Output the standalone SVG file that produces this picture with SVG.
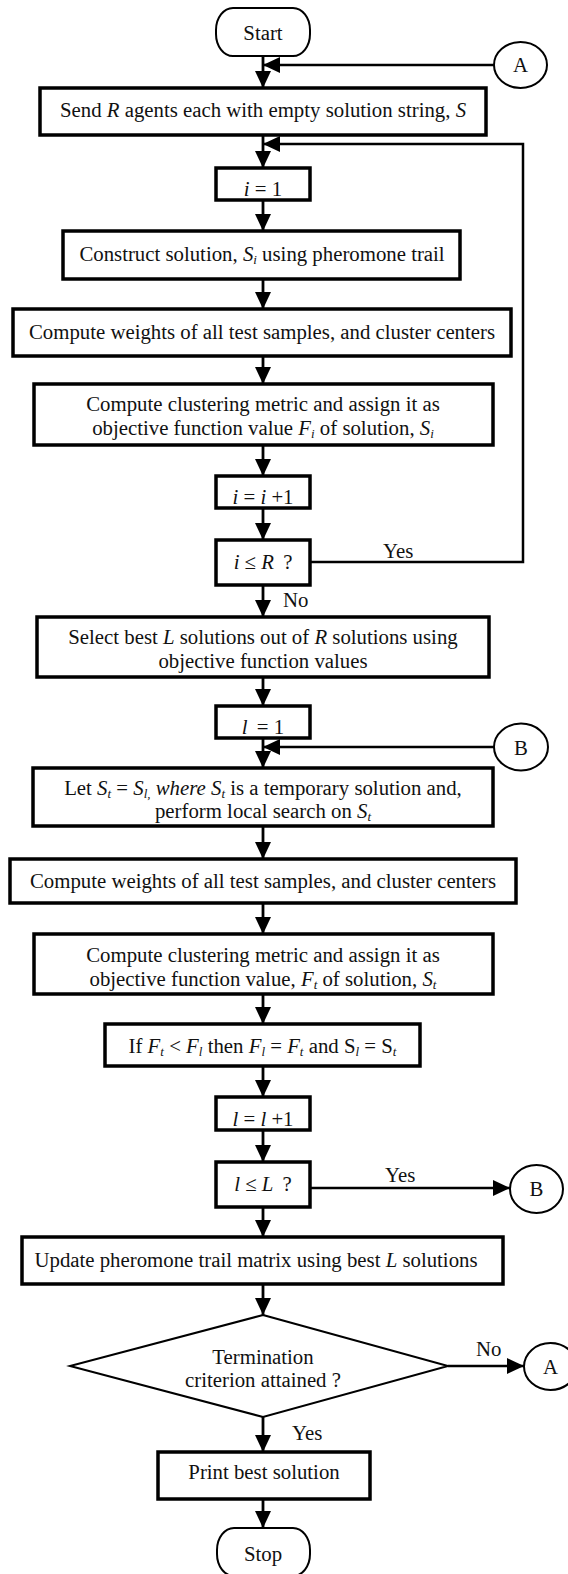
<svg xmlns="http://www.w3.org/2000/svg" width="568" height="1574" viewBox="0 0 568 1574">
<style>
text{font-family:"Liberation Serif","Times New Roman",serif;font-size:20.8px;fill:#111;text-anchor:middle}
.l{text-anchor:start}
.it{font-style:italic}
.sb{font-size:13px;font-style:italic}
.box{fill:#fff;stroke:#000;stroke-width:3.5}
.thin{fill:#fff;stroke:#000;stroke-width:2}
.c{fill:none;stroke:#000;stroke-width:2.8}
.r{fill:none;stroke:#000;stroke-width:2.5}
</style>
<defs>
<marker id="ah" markerUnits="userSpaceOnUse" markerWidth="17" markerHeight="16" refX="17" refY="8" orient="auto">
<path d="M0,0 L17,8 L0,16 Z" fill="#000"/>
</marker>
</defs>
<g id="connectors">
<path class="c" d="M263,56 V88" marker-end="url(#ah)"/>
<path class="r" d="M494,65 H263" marker-end="url(#ah)"/>
<path class="c" d="M263,135 V168" marker-end="url(#ah)"/>
<path class="r" d="M310,562 H523 V144 H263" marker-end="url(#ah)"/>
<path class="c" d="M263,200 V231" marker-end="url(#ah)"/>
<path class="c" d="M263,279 V309" marker-end="url(#ah)"/>
<path class="c" d="M263,356 V384" marker-end="url(#ah)"/>
<path class="c" d="M263,445 V476" marker-end="url(#ah)"/>
<path class="c" d="M263,508 V540" marker-end="url(#ah)"/>
<path class="c" d="M263,585 V617" marker-end="url(#ah)"/>
<path class="c" d="M263,677 V706" marker-end="url(#ah)"/>
<path class="c" d="M263,738 V768" marker-end="url(#ah)"/>
<path class="r" d="M494,747 H263" marker-end="url(#ah)"/>
<path class="c" d="M263,826 V859" marker-end="url(#ah)"/>
<path class="c" d="M263,903 V934" marker-end="url(#ah)"/>
<path class="c" d="M263,994 V1024" marker-end="url(#ah)"/>
<path class="c" d="M263,1066 V1097" marker-end="url(#ah)"/>
<path class="c" d="M263,1130 V1162" marker-end="url(#ah)"/>
<path class="r" d="M310,1188 H510" marker-end="url(#ah)"/>
<path class="c" d="M263,1207 V1237" marker-end="url(#ah)"/>
<path class="c" d="M263,1284 V1315" marker-end="url(#ah)"/>
<path class="r" d="M448,1366 H524" marker-end="url(#ah)"/>
<path class="c" d="M263,1417 V1452" marker-end="url(#ah)"/>
<path class="c" d="M263,1499 V1528" marker-end="url(#ah)"/>
<text class="l" x="383" y="558">Yes</text>
<text class="l" x="283" y="607">No</text>
<text class="l" x="385" y="1182">Yes</text>
<text class="l" x="476" y="1356">No</text>
<text class="l" x="292" y="1440">Yes</text>
</g>
<g id="start"><rect class="thin" x="216" y="8" width="94" height="48" rx="17" ry="22"/><text x="263" y="40">Start</text></g>
<g id="connA1"><ellipse class="thin" cx="520.5" cy="65" rx="26.5" ry="23"/><text x="520.5" y="72">A</text></g>
<g id="send"><rect class="box" x="40" y="88" width="446" height="47"/><text x="263" y="117">Send <tspan class="it">R</tspan> agents each with empty solution string, <tspan class="it">S</tspan></text></g>
<g id="i1"><rect class="box" x="216" y="168" width="94" height="32"/><text x="263" y="196"><tspan class="it">i</tspan> = 1</text></g>
<g id="construct"><rect class="box" x="63" y="231" width="397" height="48"/><text x="262" y="261">Construct solution, <tspan class="it">S</tspan><tspan class="sb" dy="3">i</tspan><tspan dy="-3"> using pheromone trail</tspan></text></g>
<g id="weights1"><rect class="box" x="13" y="309" width="498" height="47"/><text x="262" y="339">Compute weights of all test samples, and cluster centers</text></g>
<g id="metric1"><rect class="box" x="34" y="384" width="459" height="61"/><text x="263" y="411">Compute clustering metric and assign it as</text><text x="263" y="435">objective function value <tspan class="it">F</tspan><tspan class="sb" dy="3">i</tspan><tspan dy="-3"> of solution, </tspan><tspan class="it">S</tspan><tspan class="sb" dy="3">i</tspan></text></g>
<g id="inc_i"><rect class="box" x="216" y="476" width="94" height="32"/><text x="263" y="504"><tspan class="it">i</tspan> = <tspan class="it">i</tspan> +1</text></g>
<g id="test_i"><rect class="box" x="216" y="540" width="94" height="45"/><text x="263" y="569"><tspan class="it">i</tspan> ≤ <tspan class="it">R</tspan>  <tspan dx="4">?</tspan></text></g>
<g id="select"><rect class="box" x="37" y="617" width="452" height="60"/><text x="263" y="644">Select best <tspan class="it">L</tspan> solutions out of <tspan class="it">R</tspan> solutions using</text><text x="263" y="668">objective function values</text></g>
<g id="l1"><rect class="box" x="216" y="706" width="94" height="32"/><text x="263" y="734"><tspan class="it">l</tspan>  <tspan dx="4">= 1</tspan></text></g>
<g id="connB1"><ellipse class="thin" cx="521" cy="747" rx="27" ry="23.5"/><text x="521" y="755">B</text></g>
<g id="let"><rect class="box" x="33" y="768" width="460" height="58"/><text x="263" y="795">Let <tspan class="it">S</tspan><tspan class="sb" dy="3">t</tspan><tspan dy="-3"> = </tspan><tspan class="it">S</tspan><tspan class="sb" dy="3">l,</tspan><tspan class="it" dy="-3"> where </tspan><tspan class="it">S</tspan><tspan class="sb" dy="3">t</tspan><tspan dy="-3"> is a temporary solution and,</tspan></text><text x="263" y="818">perform local search on <tspan class="it">S</tspan><tspan class="sb" dy="3">t</tspan></text></g>
<g id="weights2"><rect class="box" x="10" y="859" width="506" height="44"/><text x="263" y="888">Compute weights of all test samples, and cluster centers</text></g>
<g id="metric2"><rect class="box" x="34" y="934" width="459" height="60"/><text x="263" y="962">Compute clustering metric and assign it as</text><text x="263" y="986">objective function value, <tspan class="it">F</tspan><tspan class="sb" dy="3">t</tspan><tspan dy="-3"> of solution, </tspan><tspan class="it">S</tspan><tspan class="sb" dy="3">t</tspan></text></g>
<g id="ifbox"><rect class="box" x="105" y="1024" width="315" height="42"/><text x="262.5" y="1053">If <tspan class="it">F</tspan><tspan class="sb" dy="3">t</tspan><tspan dy="-3"> &lt; </tspan><tspan class="it">F</tspan><tspan class="sb" dy="3">l</tspan><tspan dy="-3"> then </tspan><tspan class="it">F</tspan><tspan class="sb" dy="3">l</tspan><tspan dy="-3"> = </tspan><tspan class="it">F</tspan><tspan class="sb" dy="3">t</tspan><tspan dy="-3"> and S</tspan><tspan class="sb" dy="3">l</tspan><tspan dy="-3"> = S</tspan><tspan class="sb" dy="3">t</tspan></text></g>
<g id="inc_l"><rect class="box" x="216" y="1097" width="94" height="33"/><text x="263" y="1126"><tspan class="it">l</tspan> = <tspan class="it">l</tspan> +1</text></g>
<g id="test_l"><rect class="box" x="216" y="1162" width="94" height="45"/><text x="263" y="1191"><tspan class="it">l</tspan> ≤ <tspan class="it">L</tspan>  <tspan dx="4">?</tspan></text></g>
<g id="connB2"><ellipse class="thin" cx="536.5" cy="1189" rx="26.5" ry="24"/><text x="536.5" y="1196">B</text></g>
<g id="update"><rect class="box" x="22" y="1237" width="481" height="47"/><text x="256" y="1267">Update pheromone trail matrix using best <tspan class="it">L</tspan> solutions</text></g>
<g id="terminate"><path class="thin" d="M263,1315 L448,1366 L263,1417 L70,1366 Z"/><text x="263" y="1364">Termination</text><text x="263" y="1387">criterion attained ?</text></g>
<g id="connA2"><ellipse class="thin" cx="550.5" cy="1366.5" rx="26.5" ry="23.5"/><text x="550.5" y="1374">A</text></g>
<g id="print"><rect class="box" x="158" y="1452" width="212" height="47"/><text x="264" y="1479">Print best solution</text></g>
<g id="stop"><rect class="thin" x="217" y="1528" width="93" height="48" rx="17" ry="22"/><text x="263" y="1561">Stop</text></g>
</svg>
